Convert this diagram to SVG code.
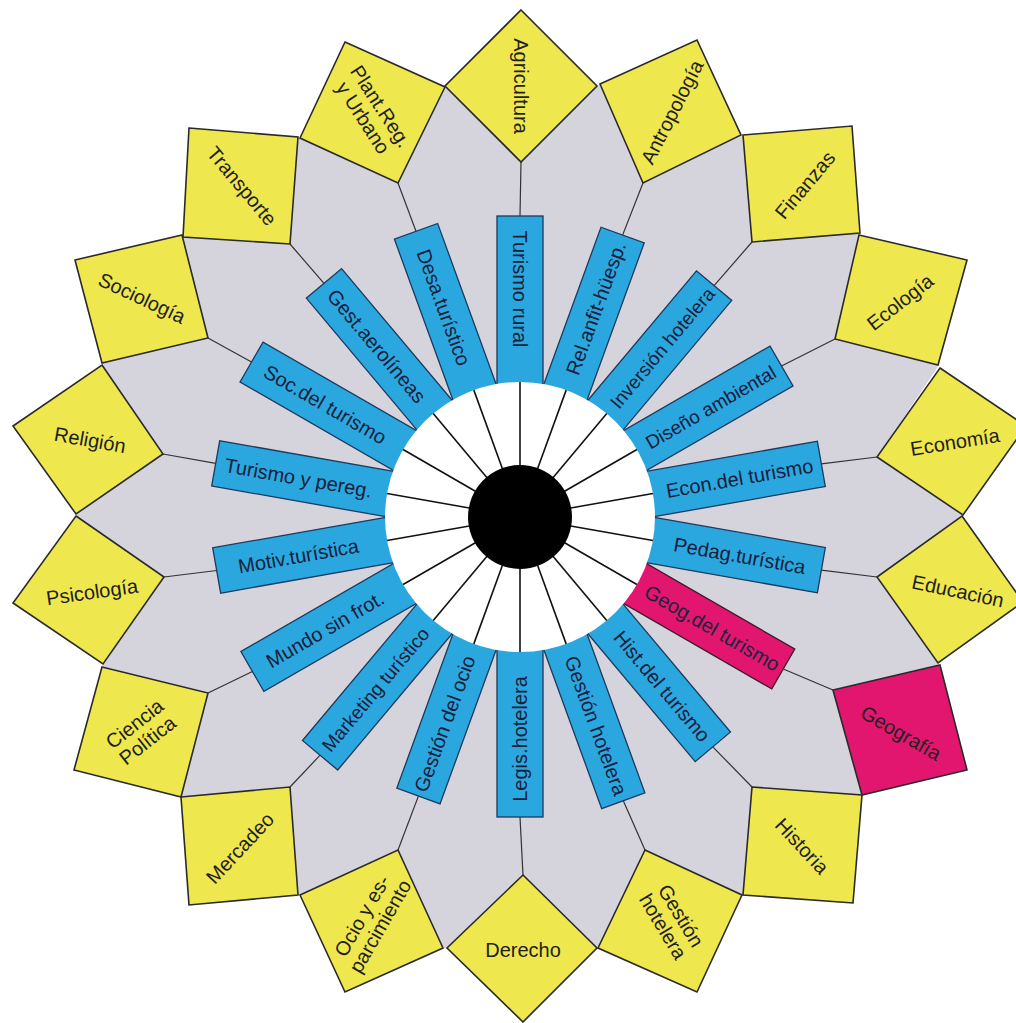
<svg xmlns="http://www.w3.org/2000/svg" width="1016" height="1023" viewBox="0 0 1016 1023">
<style>
.y{fill:#efe74e;stroke:#2a2a2a;stroke-width:1.6;stroke-linejoin:miter}
.p{fill:#e2166e;stroke:#2a2a2a;stroke-width:1.6}
.b{fill:#2ba7df;stroke:#1d3a5c;stroke-width:1.3}
.bp{fill:#e2166e;stroke:#3a1a2a;stroke-width:1.3}
.t{font-family:"Liberation Sans",Arial,sans-serif;font-size:20px;fill:#1e1e1e;text-anchor:middle}
.bt{font-family:"Liberation Sans",Arial,sans-serif;font-size:20px;fill:#18203c;text-anchor:middle}
.sm{font-size:19px}
.c line{stroke:#333;stroke-width:1.2}
.s line{stroke:#111;stroke-width:1.6}
</style>
<rect width="1016" height="1023" fill="#fff"/>
<polygon id="fondo" fill="#d5d3dc" points="445,86 521,162 597,86 600,84 643,183 741,135 743,135 752,242 860,233 859,235 835,339 938,365 937,368 877,457 963,515 962,516 877,577 938,663 940,665 833,690 862,795 752,787 743,895 742,895 645,850 598,948 597,948 523,875 447,948 443,948 398,850 300,895 298,895 290,787 181,797 208,693 102,667 103,664 164,577 76,516 76,514 163,454 102,365 102,363 208,338 182,235 183,237 290,244 298,137 300,138 398,183 445,87"/>
<g id="connectors" class="c">
<line x1="521" y1="162" x2="520" y2="216"/>
<line x1="643" y1="183" x2="622.6" y2="235.1"/>
<line x1="752" y1="242" x2="714.1" y2="285.7"/>
<line x1="835" y1="339" x2="781.5" y2="366"/>
<line x1="877" y1="457" x2="821.3" y2="463.9"/>
<line x1="877" y1="577" x2="821.3" y2="570.1"/>
<line x1="833" y1="690" x2="783.3" y2="669"/>
<line x1="752" y1="787" x2="712.8" y2="746.8"/>
<line x1="645" y1="850" x2="623.3" y2="800.8"/>
<line x1="523" y1="875" x2="520" y2="817"/>
<line x1="398" y1="850" x2="418.4" y2="796.1"/>
<line x1="290" y1="787" x2="320.1" y2="755.2"/>
<line x1="208" y1="693" x2="252.4" y2="671.5"/>
<line x1="164" y1="577" x2="216.7" y2="570.5"/>
<line x1="163" y1="454" x2="215.7" y2="463.4"/>
<line x1="208" y1="338" x2="251.5" y2="362"/>
<line x1="290" y1="244" x2="324" y2="283.4"/>
<line x1="398" y1="183" x2="416" y2="231.3"/>
</g>
<g id="sub-turismo-rural" transform="translate(520 517) rotate(0)"><rect class="b" x="-23" y="-301" width="46" height="181"/><text class="bt" transform="translate(0 -228) rotate(90)" y="7">Turismo rural</text></g>
<g id="sub-rel-anfit" transform="translate(520 517) rotate(20)"><rect class="b" x="-23" y="-300" width="46" height="180"/><text class="bt" transform="translate(0 -222) rotate(-90)" y="7">Rel.anfit-hüesp.</text></g>
<g id="sub-inversion" transform="translate(520 517) rotate(40)"><rect class="b" x="-23" y="-302" width="46" height="182"/><text class="bt sm" transform="translate(0 -221) rotate(-90)" y="7">Inversión hotelera</text></g>
<g id="sub-diseno" transform="translate(520 517) rotate(60)"><rect class="b" x="-23" y="-302" width="46" height="182"/><text class="bt sm" transform="translate(0 -220) rotate(-90)" y="7">Diseño ambiental</text></g>
<g id="sub-econ" transform="translate(520 517) rotate(80)"><rect class="b" x="-23" y="-306" width="46" height="186"/><text class="bt" transform="translate(0 -223) rotate(-90)" y="7">Econ.del turismo</text></g>
<g id="sub-pedag" transform="translate(520 517) rotate(100)"><rect class="b" x="-23" y="-306" width="46" height="186"/><text class="bt" transform="translate(0 -223) rotate(-90)" y="7">Pedag.turística</text></g>
<g id="sub-geog" transform="translate(520 517) rotate(120)"><rect class="bp" x="-23" y="-304" width="46" height="184"/><text class="bt" transform="translate(0 -222) rotate(-90)" y="7">Geog.del turismo</text></g>
<g id="sub-hist" transform="translate(520 517) rotate(140)"><rect class="b" x="-23" y="-300" width="46" height="180"/><text class="bt" transform="translate(0 -221) rotate(-90)" y="7">Hist.del turismo</text></g>
<g id="sub-gestion-hotelera" transform="translate(520 517) rotate(160)"><rect class="b" x="-23" y="-302" width="46" height="182"/><text class="bt" transform="translate(0 -222) rotate(-90)" y="7">Gestión hotelera</text></g>
<g id="sub-legis" transform="translate(520 517) rotate(180)"><rect class="b" x="-23" y="-300" width="46" height="180"/><text class="bt" transform="translate(0 -222) rotate(90)" y="7">Legis.hotelera</text></g>
<g id="sub-gestion-ocio" transform="translate(520 517) rotate(200)"><rect class="b" x="-23" y="-297" width="46" height="177"/><text class="bt" transform="translate(0 -220) rotate(90)" y="7">Gestión del ocio</text></g>
<g id="sub-marketing" transform="translate(520 517) rotate(220)"><rect class="b" x="-23" y="-311" width="46" height="191"/><text class="bt sm" transform="translate(0 -225) rotate(90)" y="7">Marketing turístico</text></g>
<g id="sub-mundo" transform="translate(520 517) rotate(240)"><rect class="b" x="-23" y="-309" width="46" height="189"/><text class="bt" transform="translate(0 -225) rotate(90)" y="7">Mundo sin frot.</text></g>
<g id="sub-motiv" transform="translate(520 517) rotate(260)"><rect class="b" x="-23" y="-308" width="46" height="188"/><text class="bt" transform="translate(0 -225) rotate(90)" y="7">Motiv.turística</text></g>
<g id="sub-pereg" transform="translate(520 517) rotate(280)"><rect class="b" x="-23" y="-309" width="46" height="189"/><text class="bt" transform="translate(0 -225) rotate(90)" y="7">Turismo y pereg.</text></g>
<g id="sub-soc" transform="translate(520 517) rotate(300)"><rect class="b" x="-23" y="-310" width="46" height="190"/><text class="bt" transform="translate(0 -225) rotate(90)" y="7">Soc.del turismo</text></g>
<g id="sub-aerolineas" transform="translate(520 517) rotate(320)"><rect class="b" x="-23" y="-305" width="46" height="185"/><text class="bt" transform="translate(0 -223) rotate(90)" y="7">Gest.aerolíneas</text></g>
<g id="sub-desa" transform="translate(520 517) rotate(340)"><rect class="b" x="-23" y="-304" width="46" height="184"/><text class="bt" transform="translate(0 -223) rotate(90)" y="7">Desa.turístico</text></g>
<g id="hub">
<circle cx="520" cy="517" r="135" fill="#fff"/>
<g class="s" transform="translate(520 517)">
<line x1="0" y1="-50" x2="0" y2="-135" transform="rotate(0)"/>
<line x1="0" y1="-50" x2="0" y2="-135" transform="rotate(20)"/>
<line x1="0" y1="-50" x2="0" y2="-135" transform="rotate(40)"/>
<line x1="0" y1="-50" x2="0" y2="-135" transform="rotate(60)"/>
<line x1="0" y1="-50" x2="0" y2="-135" transform="rotate(80)"/>
<line x1="0" y1="-50" x2="0" y2="-135" transform="rotate(100)"/>
<line x1="0" y1="-50" x2="0" y2="-135" transform="rotate(120)"/>
<line x1="0" y1="-50" x2="0" y2="-135" transform="rotate(140)"/>
<line x1="0" y1="-50" x2="0" y2="-135" transform="rotate(160)"/>
<line x1="0" y1="-50" x2="0" y2="-135" transform="rotate(180)"/>
<line x1="0" y1="-50" x2="0" y2="-135" transform="rotate(200)"/>
<line x1="0" y1="-50" x2="0" y2="-135" transform="rotate(220)"/>
<line x1="0" y1="-50" x2="0" y2="-135" transform="rotate(240)"/>
<line x1="0" y1="-50" x2="0" y2="-135" transform="rotate(260)"/>
<line x1="0" y1="-50" x2="0" y2="-135" transform="rotate(280)"/>
<line x1="0" y1="-50" x2="0" y2="-135" transform="rotate(300)"/>
<line x1="0" y1="-50" x2="0" y2="-135" transform="rotate(320)"/>
<line x1="0" y1="-50" x2="0" y2="-135" transform="rotate(340)"/>
</g>
<circle cx="520" cy="517" r="52" fill="#000"/>
</g>
<g id="agricultura"><polygon class="y" points="521,10 597,86 521,162 445,86"/><text class="t" transform="translate(521 86) rotate(90)" y="7">Agricultura</text></g>
<g id="antropologia"><polygon class="y" points="600,84 697,40 741,135 643,183"/><text class="t" transform="translate(672 112) rotate(-63)" y="7">Antropología</text></g>
<g id="finanzas"><polygon class="y" points="743,135 852,126 860,233 752,242"/><text class="t" transform="translate(805 185) rotate(-50)" y="7">Finanzas</text></g>
<g id="ecologia"><polygon class="y" points="859,235 967,260 938,365 835,339"/><text class="t" transform="translate(900 302) rotate(-38)" y="7">Ecología</text></g>
<g id="economia"><polygon class="y" points="940,368 1026,426 963,515 877,457"/><text class="t" transform="translate(955 442) rotate(-9)" y="7">Economía</text></g>
<g id="educacion"><polygon class="y" points="962,516 1023,602 938,663 877,577"/><text class="t" transform="translate(958 591) rotate(12)" y="7">Educación</text></g>
<g id="geografia"><polygon class="p" points="833,690 940,665 967,770 862,795"/><text class="t" transform="translate(901 733) rotate(30)" y="7">Geografía</text></g>
<g id="historia"><polygon class="y" points="752,787 862,795 853,903 743,895"/><text class="t" transform="translate(802 846) rotate(47)" y="7">Historia</text></g>
<g id="gestion-hotelera"><polygon class="y" points="645,850 742,895 697,992 598,948"/><text class="t" transform="translate(672 921) rotate(59)"><tspan x="0" y="-3.5">Gestión</tspan><tspan x="0" y="17.5">hotelera</tspan></text></g>
<g id="derecho"><polygon class="y" points="523,875 597,948 523,1022 447,948"/><text class="t" transform="translate(523 950)" y="7">Derecho</text></g>
<g id="ocio"><polygon class="y" points="300,895 398,850 443,948 345,992"/><text class="t" transform="translate(371 921) rotate(-60)"><tspan x="0" y="-3.5">Ocio y es-</tspan><tspan x="0" y="17.5">parcimiento</tspan></text></g>
<g id="mercadeo"><polygon class="y" points="181,797 290,787 298,895 189,905"/><text class="t" transform="translate(240 848) rotate(-47)" y="7">Mercadeo</text></g>
<g id="ciencia-politica"><polygon class="y" points="102,667 208,693 181,797 74,770"/><text class="t" transform="translate(141 732) rotate(-38)"><tspan x="0" y="-3.5">Ciencia</tspan><tspan x="0" y="17.5">Política</tspan></text></g>
<g id="psicologia"><polygon class="y" points="76,516 164,577 103,664 13,603"/><text class="t" transform="translate(92 592) rotate(-8)" y="7">Psicología</text></g>
<g id="religion"><polygon class="y" points="102,365 163,454 76,514 13,426"/><text class="t" transform="translate(90 440) rotate(10)" y="7">Religión</text></g>
<g id="sociologia"><polygon class="y" points="75,260 182,235 208,338 102,363"/><text class="t" transform="translate(142 298) rotate(25)" y="7">Sociología</text></g>
<g id="transporte"><polygon class="y" points="189,128 298,137 290,244 183,237"/><text class="t" transform="translate(242 186) rotate(50)" y="7">Transporte</text></g>
<g id="plant-reg"><polygon class="y" points="345,42 445,87 398,183 300,138"/><text class="t" transform="translate(372 112) rotate(57)"><tspan x="0" y="-3.5">Plant.Reg.</tspan><tspan x="0" y="17.5">y Urbano</tspan></text></g>
</svg>
